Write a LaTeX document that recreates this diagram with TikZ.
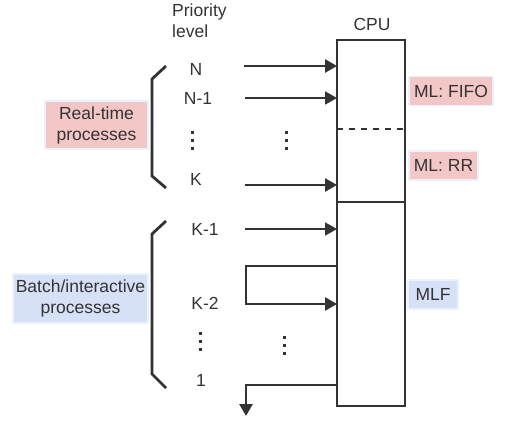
\documentclass[tikz,border=0pt]{standalone}
\usepackage{fontspec}
\setmainfont{Liberation Sans}
\usetikzlibrary{arrows.meta}
\definecolor{ink}{HTML}{333333}
\definecolor{pinkfill}{HTML}{F4C7C7}
\definecolor{bluefill}{HTML}{D6E0F6}
\definecolor{halo}{HTML}{EAF2FD}
\tikzset{
  x=1pt, y=-1pt,
  every node/.style={font=\fontsize{17.5}{21}\selectfont, text=ink, inner sep=0pt},
  tag/.style={draw=halo, line width=1.5pt, inner sep=0pt, align=center},
  thickarrow/.style={draw=ink, line width=2.8pt, -{Triangle[length=12pt,width=13pt]}},
  thinarrow/.style={draw=ink, line width=1.8pt, -{Triangle[length=12pt,width=13pt]}},
  bracket/.style={draw=ink, line width=2.8pt},
}
\begin{document}
\begin{tikzpicture}
\useasboundingbox (0,0) rectangle (510,443);
% CPU box
\node[anchor=center] (cpulbl) at (372,24) {CPU};
\draw[ink, line width=2pt] (337,40) rectangle (405,406);
\draw[ink, line width=2pt] (337,202) -- (405,202);
\draw[ink, line width=1.6pt, dash pattern=on 6pt off 6pt] (337,129) -- (405,129);
% CPU attachment points
\coordinate (cN) at (337,66);
\coordinate (cN1) at (337,98);
\coordinate (cK) at (337,185);
\coordinate (cK1) at (337,229);
\coordinate (cK2out) at (337,266);
\coordinate (cK2in) at (337,304);
\coordinate (c1) at (337,385);
% arrow starts
\coordinate (sN) at (244,66);
\coordinate (sN1) at (245,98);
\coordinate (sK) at (245,185);
\coordinate (sK1) at (245,229);
\coordinate (out) at (246,416);
% Priority
\node[align=left, anchor=north west] (prio) at (172,4) {Priority\\level};
% level labels
\node (N) at (196,69) {N};
\node (N1) at (198,98) {N-1};
\node (K) at (196,179) {K};
\node (K1) at (205,229) {K-1};
\node (K2) at (205,303) {K-2};
\node (one) at (201,380) {1};
% vertical dots
\foreach \xx/\yy/\nm in {192/141/vda, 286/141/vdb, 200/341/vdc, 284/345/vdd}{
  \foreach \k in {-1,0,1}{
    \fill[ink] (\xx-1.5,\yy+\k*8-1.5) rectangle (\xx+1.5,\yy+\k*8+1.5);
  }
  \coordinate (\nm) at (\xx,\yy);
}
% arrows
\draw[thickarrow] (sN) -- (cN);
\draw[thinarrow] (sN1) -- (cN1);
\draw[thickarrow] (sK) -- (cK);
\draw[thinarrow] (sK1) -- (cK1);
\draw[thickarrow] (cK2out) -- (246,266) -- (246,304) -- (cK2in);
\draw[thickarrow] (c1) -- (246,385) -- (out);
% brackets
\draw[bracket] (166,66) -- (152,79) -- (152,176) -- (166,188);
\draw[bracket] (166,221) -- (152,234) -- (152,374) -- (166,388);
% tags
\node[tag, fill=pinkfill, minimum width=103pt, minimum height=48pt] (rt) at (96.5,125) {Real-time\\processes};
\node[tag, fill=bluefill, minimum width=135pt, minimum height=49pt] (bi) at (80.5,298.5) {Batch/interactive\\processes};
\node[tag, fill=pinkfill, minimum width=84pt, minimum height=29pt] (fifo) at (451,91) {ML: FIFO};
\node[tag, fill=pinkfill, minimum width=69pt, minimum height=29pt] (rr) at (443.5,165.5) {ML: RR};
\node[tag, fill=bluefill, minimum width=50pt, minimum height=29pt] (mlf) at (433,294.5) {MLF};
\end{tikzpicture}
\end{document}
